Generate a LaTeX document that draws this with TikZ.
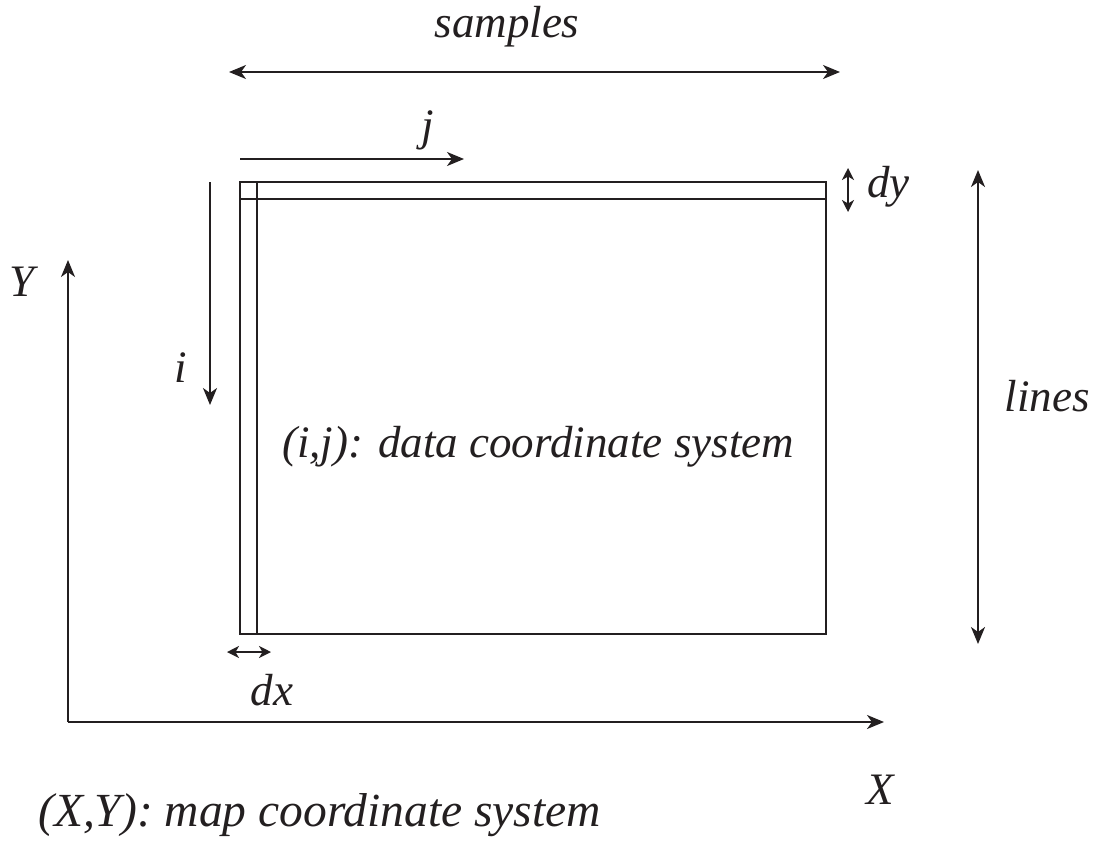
\documentclass[tikz,border=0pt]{standalone}
\usepackage{fontspec}
\setmainfont{Liberation Serif}
\usetikzlibrary{arrows.meta}
\definecolor{ink}{HTML}{231F20}
\tikzset{
  line/.style={draw=ink, line width=2pt},
  arr/.style={line, -{Stealth[length=17pt,width=14pt,inset=5pt]}},
  darr/.style={line, {Stealth[length=17pt,width=14pt,inset=5pt]}-{Stealth[length=17pt,width=14pt,inset=5pt]}},
  sarr/.style={line, {Stealth[length=12pt,width=12pt,inset=3.5pt]}-{Stealth[length=12pt,width=12pt,inset=3.5pt]}},
  lbl/.style={text=ink, font=\fontsize{45}{52}\selectfont\itshape, inner sep=0pt}
}
\begin{document}
\begin{tikzpicture}[x=1pt, y=-1pt]
  \useasboundingbox (0,0) rectangle (1097,841);
  % data grid and first pixel row/column
  \draw[line] (240,182) rectangle (826,634);
  \draw[line] (257,182) -- (257,634);
  \draw[line] (240,199) -- (826,199);
  % coordinate helpers
  \coordinate (sL) at (229,72);   \coordinate (sR) at (840,72);
  \coordinate (jA) at (240,159);  \coordinate (jB) at (464,159);
  \coordinate (iA) at (210,182);  \coordinate (iB) at (210,405);
  \coordinate (dyA) at (848,168); \coordinate (dyB) at (848,212);
  \coordinate (dxA) at (227,652); \coordinate (dxB) at (271,652);
  \coordinate (lA) at (978,170);  \coordinate (lB) at (978,644);
  \coordinate (O) at (68,722);
  \coordinate (Yt) at (68,260);   \coordinate (Xt) at (884,722);
  % arrows
  \draw[darr] (sL) -- (sR);
  \draw[arr] (jA) -- (jB);
  \draw[arr] (iA) -- (iB);
  \draw[sarr] (dyA) -- (dyB);
  \draw[sarr] (dxA) -- (dxB);
  \draw[darr] (lA) -- (lB);
  \draw[arr] (O) -- (Yt);
  \draw[arr] (O) -- (Xt);
  % labels
  \node[lbl] (samples) at (507,27) {samples};
  \node[lbl] (j) at (428,130) {j};
  \node[lbl] (i) at (181,368) {i};
  \node[lbl, anchor=west] (dy) at (867,187) {dy};
  \node[lbl] (dx) at (272,690) {dx};
  \node[lbl] (lines) at (1047,396) {lines};
  \node[lbl] (Y) at (22,282) {Y};
  \node[lbl] (X) at (880,790) {X};
  \node[lbl] (data) at (538,447) {(i,j): data coordinate system};
  \node[lbl, anchor=west, font=\fontsize{47.5}{54}\selectfont\itshape] (map) at (38,815) {(X,Y): map coordinate system};
\end{tikzpicture}
\end{document}
